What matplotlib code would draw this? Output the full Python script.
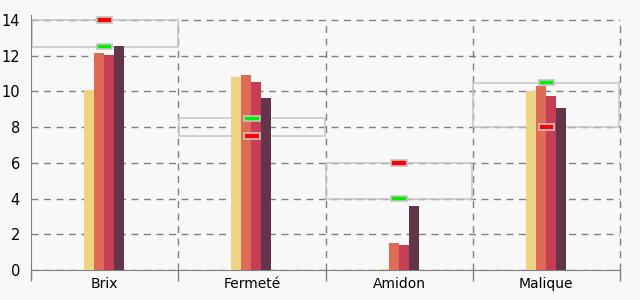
import matplotlib.pyplot as plt
from matplotlib.patches import Rectangle

categories = ["Brix", "Fermeté", "Amidon", "Malique"]
serie_1 = [10.1, 10.8, 0.05, 10.0]
serie_2 = [12.15, 10.9, 1.5, 10.3]
serie_3 = [12.05, 10.55, 1.4, 9.75]
serie_4 = [12.55, 9.65, 3.6, 9.1]
cible_verte = [12.5, 8.5, 4.0, 10.5]
cible_rouge = [14.0, 7.5, 6.0, 8.0]
y_ticks = [0, 2, 4, 6, 8, 10, 12, 14]

colors = ["#edd382", "#dd6b55", "#c63d56", "#63354b"]
bg = "#f8f8f8"
grid_col = "#808080"


def main():
    fig = plt.figure(figsize=(6.4, 3.0), dpi=100, facecolor=bg)
    ax = fig.add_axes([31 / 640, 0.1, (620 - 31) / 640, 0.85], facecolor=bg)

    x = list(range(len(categories)))
    w = 0.068
    for k, serie in enumerate([serie_1, serie_2, serie_3, serie_4]):
        pos = [i + (k - 1.5) * w - 0.004 for i in x]
        ax.bar(pos, serie, width=w, color=colors[k], zorder=3)

    # plages cibles
    for i in x:
        lo = min(cible_verte[i], cible_rouge[i])
        hi = max(cible_verte[i], cible_rouge[i])
        ax.add_patch(Rectangle((i - 0.495, lo), 0.99, hi - lo, fill=False,
                               edgecolor="#c4c4c4", lw=1.1, zorder=2))
    mh = 0.3
    ax.bar(x, [mh] * 4, bottom=[v - mh / 2 for v in cible_verte], width=0.105,
           color="#00ee00", edgecolor="#c4c4c4", lw=1.2, zorder=4)
    ax.bar(x, [mh] * 4, bottom=[v - mh / 2 for v in cible_rouge], width=0.105,
           color="#ff0000", edgecolor="#c4c4c4", lw=1.2, zorder=4)

    ax.set_xlim(-0.5, 3.5)
    ax.set_ylim(0, 14.28)
    ax.set_yticks(y_ticks)
    ax.set_xticks([-0.5, 0.5, 1.5, 2.5, 3.5])
    ax.set_xticklabels([])
    ax.set_xticks(x, minor=True)
    ax.set_xticklabels(categories, minor=True)
    ax.tick_params(axis="x", which="major", length=8, color=grid_col, width=1)
    ax.tick_params(axis="x", which="minor", length=0, pad=5, labelsize=10)
    ax.tick_params(axis="y", length=0, pad=8, labelsize=10.5)

    ax.grid(True, axis="y", color=grid_col, ls=(0, (5, 4)), lw=1, zorder=1)
    ax.vlines([0.5, 1.5, 2.5, 3.5], 0, 14, colors=grid_col, ls=(0, (5, 4)),
              lw=1, zorder=1, clip_on=False)
    for s in ["top", "right"]:
        ax.spines[s].set_visible(False)
    for s in ["left", "bottom"]:
        ax.spines[s].set_color(grid_col)
    ax.spines["left"].set_bounds(-0.3, 14.28)

    fig.savefig("out.png", dpi=100, facecolor=bg)


if __name__ == "__main__":
    main()
